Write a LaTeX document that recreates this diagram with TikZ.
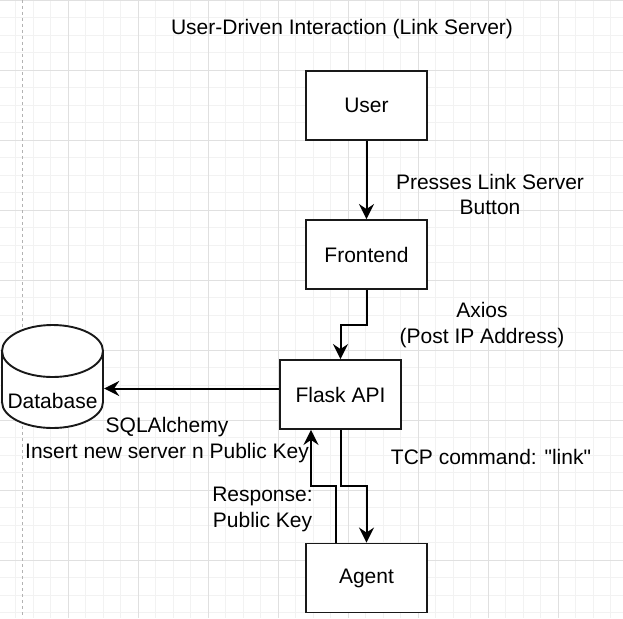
\documentclass[tikz,border=0pt]{standalone}
\usepackage{fontspec}
\setmainfont{Liberation Sans}
\newfontfamily\drawfont{Liberation Sans}
\usetikzlibrary{arrows.meta}
\begin{document}
\begin{tikzpicture}[x=1pt,y=-1pt,
  box/.style={draw=black!90,line width=1.9pt,fill=white,minimum width=121pt,minimum height=69pt,font=\drawfont\fontsize{21}{25}\selectfont},
  txt/.style={align=center,inner sep=0pt,font=\drawfont\fontsize{21}{25.5}\selectfont},
  arr/.style={line width=2pt,-{Stealth[length=15pt,width=15pt,inset=5pt]}},
  gridminor/.style={black!5,line width=.9pt},
  gridmajor/.style={black!12,line width=.9pt}]
  \useasboundingbox[fill=white] (0,0) rectangle (623,618);
  % grid
  \foreach \i in {0,...,36} \draw[gridminor] ({-2+17.5*\i},0) -- ({-2+17.5*\i},618);
  \foreach \i in {0,...,35} \draw[gridminor] (0,{17.5*\i}) -- (623,{17.5*\i});
  \foreach \i in {1,...,9} \draw[gridmajor] ({-2+70*\i},0) -- ({-2+70*\i},618);
  \foreach \i in {0,...,8} \draw[gridmajor] (0,{70*\i}) -- (623,{70*\i});
  \draw[black!30,line width=.8pt,dash pattern=on 3pt off 3pt] (22,0) -- (22,618);
  % title
  \node[txt] (title) at (342,29) {User-Driven Interaction (Link Server)};
  % boxes
  \node[box] (user) at (366.5,105.5) {User};
  \node[box] (frontend) at (366.5,254.5) {Frontend};
  \node[box] (flask) at (340.5,394.5) {Flask API};
  \node[box] (agent) at (366.5,578) {Agent};
  % database
  \draw[black!90,line width=1.9pt,fill=white] (2,351) -- (2,402) arc[start angle=180,end angle=360,x radius=50.5pt,y radius=26pt] -- (103,351);
  \draw[black!90,line width=1.9pt,fill=white] (52.5,351) ellipse[x radius=50.5pt,y radius=26pt];
  \node[minimum width=103pt,minimum height=105pt,inner sep=0pt] (db) at (52.5,376.5) {};
  \node[txt] (dblabel) at (52.5,401) {Database};
  % connectors
  \draw[arr] (user) -- (frontend);
  \draw[arr] (frontend.south) -- ++(0,35) -| (flask.north);
  \coordinate (dbin) at ([yshift=6pt]flask.west);
  \draw[arr] (dbin) -- (dbin -| db.east);
  \draw[arr] (flask.south) -- ++(0,56) -| (agent.north);
  \draw[arr] ([xshift=-30.5pt]agent.north) -- ++(0,-57) -| ([xshift=-29.5pt]flask.south);
  % labels
  \node[txt] (presses) at (490,194.5) {Presses Link Server\\Button};
  \node[txt] (axios) at (482,325) {Axios\\(Post IP Address)};
  \node[txt] (sql) at (167,440) {SQLAlchemy\\Insert new server n Public Key};
  \node[txt] (resp) at (262.5,509.5) {Response:\\Public Key};
  \node[txt] (tcp) at (491,457) {TCP command: "link"};
\end{tikzpicture}
\end{document}
